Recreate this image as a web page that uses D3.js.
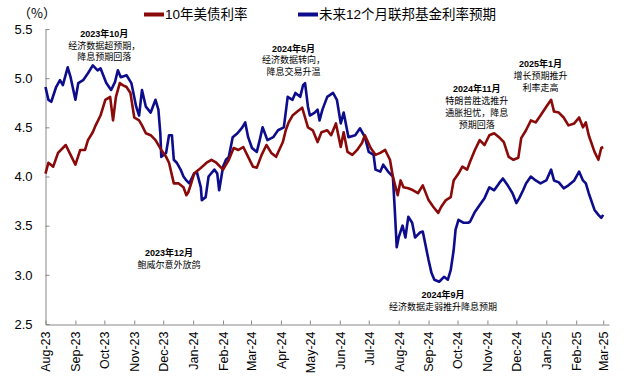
<!DOCTYPE html>
<html><head><meta charset="utf-8">
<script src="https://cdn.jsdelivr.net/npm/d3@7"></script>
<style>body{margin:0;background:#fff}svg{display:block}text{font-family:"Liberation Sans",Arial,"Noto Sans CJK SC",sans-serif}</style>
</head><body>
<svg id="c" width="628" height="377"></svg>
<script>
const seriesNames = ["10年美债利率", "未来12个月联邦基金利率预期"];
const yTicks = [2.5, 3.0, 3.5, 4.0, 4.5, 5.0, 5.5];
const monthTicks = ["2023-08-01","2023-09-01","2023-10-01","2023-11-01","2023-12-01","2024-01-01","2024-02-01","2024-03-01","2024-04-01","2024-05-01","2024-06-01","2024-07-01","2024-08-01","2024-09-01","2024-10-01","2024-11-01","2024-12-01","2025-01-01","2025-02-01","2025-03-01"];

const tenYDates = ["2023-08-01","2023-08-04","2023-08-09","2023-08-14","2023-08-22","2023-08-27","2023-09-01","2023-09-06","2023-09-11","2023-09-14","2023-09-19","2023-09-22","2023-09-27","2023-10-02","2023-10-07","2023-10-10","2023-10-13","2023-10-17","2023-10-20","2023-10-24","2023-10-28","2023-11-01","2023-11-06","2023-11-09","2023-11-13","2023-11-18","2023-11-23","2023-11-29","2023-12-04","2023-12-07","2023-12-12","2023-12-17","2023-12-22","2023-12-25","2023-12-27","2023-12-30","2024-01-02","2024-01-07","2024-01-15","2024-01-20","2024-01-25","2024-02-01","2024-02-07","2024-02-12","2024-02-17","2024-02-22","2024-02-27","2024-03-03","2024-03-07","2024-03-12","2024-03-17","2024-03-22","2024-03-27","2024-04-03","2024-04-06","2024-04-09","2024-04-13","2024-04-18","2024-04-23","2024-04-26","2024-04-29","2024-05-04","2024-05-09","2024-05-13","2024-05-19","2024-05-23","2024-05-28","2024-06-02","2024-06-05","2024-06-09","2024-06-14","2024-06-19","2024-06-24","2024-06-27","2024-07-03","2024-07-08","2024-07-13","2024-07-18","2024-07-23","2024-07-26","2024-07-31","2024-08-03","2024-08-06","2024-08-11","2024-08-16","2024-08-21","2024-08-26","2024-09-01","2024-09-06","2024-09-11","2024-09-14","2024-09-19","2024-09-24","2024-09-27","2024-10-02","2024-10-06","2024-10-11","2024-10-14","2024-10-19","2024-10-24","2024-10-29","2024-11-03","2024-11-08","2024-11-13","2024-11-18","2024-11-23","2024-11-28","2024-12-03","2024-12-06","2024-12-11","2024-12-16","2024-12-21","2024-12-26","2025-01-01","2025-01-06","2025-01-09","2025-01-14","2025-01-19","2025-01-24","2025-01-30","2025-02-04","2025-02-08","2025-02-11","2025-02-14","2025-02-20","2025-02-24","2025-02-27","2025-03-01"];
const tenYValues = [4.03,4.14,4.10,4.24,4.32,4.22,4.12,4.27,4.27,4.37,4.45,4.52,4.62,4.78,4.81,4.57,4.81,4.95,4.93,4.91,4.85,4.60,4.57,4.52,4.44,4.42,4.37,4.27,4.20,4.14,3.93,3.93,3.89,3.81,3.84,3.93,4.03,4.07,4.14,4.17,4.14,4.07,4.17,4.29,4.27,4.30,4.20,4.10,4.09,4.22,4.32,4.24,4.20,4.35,4.47,4.55,4.62,4.66,4.70,4.60,4.50,4.47,4.35,4.45,4.47,4.42,4.54,4.30,4.45,4.25,4.22,4.27,4.34,4.42,4.29,4.22,4.24,4.27,4.17,4.00,3.81,3.96,3.89,3.88,3.86,3.83,3.91,3.76,3.69,3.63,3.69,3.76,3.79,3.96,4.03,4.10,4.07,4.15,4.27,4.37,4.32,4.42,4.44,4.40,4.35,4.20,4.17,4.19,4.39,4.47,4.57,4.55,4.62,4.71,4.78,4.66,4.65,4.60,4.52,4.54,4.60,4.50,4.55,4.42,4.25,4.17,4.29,4.30];

const fedDates = ["2023-08-01","2023-08-04","2023-08-07","2023-08-12","2023-08-16","2023-08-19","2023-08-24","2023-08-27","2023-09-01","2023-09-04","2023-09-09","2023-09-14","2023-09-19","2023-09-24","2023-09-27","2023-10-03","2023-10-08","2023-10-12","2023-10-15","2023-10-18","2023-10-24","2023-10-29","2023-11-03","2023-11-06","2023-11-09","2023-11-13","2023-11-18","2023-11-23","2023-11-26","2023-11-28","2023-11-29","2023-12-04","2023-12-07","2023-12-10","2023-12-12","2023-12-15","2023-12-19","2023-12-22","2023-12-25","2023-12-28","2024-01-02","2024-01-05","2024-01-09","2024-01-10","2024-01-14","2024-01-17","2024-01-23","2024-01-26","2024-01-28","2024-02-01","2024-02-04","2024-02-07","2024-02-11","2024-02-16","2024-02-21","2024-02-24","2024-02-27","2024-03-02","2024-03-07","2024-03-10","2024-03-13","2024-03-18","2024-03-24","2024-03-29","2024-04-04","2024-04-08","2024-04-13","2024-04-16","2024-04-21","2024-04-24","2024-04-26","2024-04-29","2024-05-01","2024-05-06","2024-05-09","2024-05-11","2024-05-14","2024-05-19","2024-05-25","2024-05-29","2024-06-02","2024-06-05","2024-06-10","2024-06-17","2024-06-22","2024-06-27","2024-07-01","2024-07-06","2024-07-08","2024-07-13","2024-07-16","2024-07-21","2024-07-26","2024-07-28","2024-07-30","2024-08-01","2024-08-05","2024-08-08","2024-08-11","2024-08-15","2024-08-18","2024-08-23","2024-08-26","2024-09-01","2024-09-04","2024-09-07","2024-09-12","2024-09-17","2024-09-21","2024-09-24","2024-09-27","2024-09-29","2024-10-02","2024-10-07","2024-10-12","2024-10-14","2024-10-19","2024-10-24","2024-10-29","2024-11-03","2024-11-08","2024-11-13","2024-11-17","2024-11-22","2024-11-27","2024-12-01","2024-12-04","2024-12-08","2024-12-11","2024-12-16","2024-12-21","2024-12-26","2025-01-01","2025-01-06","2025-01-09","2025-01-14","2025-01-19","2025-01-24","2025-01-30","2025-02-04","2025-02-08","2025-02-11","2025-02-14","2025-02-20","2025-02-24","2025-02-27","2025-03-01"];
const fedValues = [4.91,4.78,4.76,4.91,4.98,4.93,5.11,5.01,4.78,4.95,4.98,5.05,5.13,5.08,5.10,4.95,4.88,4.96,5.08,5.01,5.03,4.95,4.71,4.62,4.88,4.71,4.65,4.78,4.68,4.44,4.20,4.24,4.42,4.42,4.17,4.14,4.07,4.00,3.96,3.93,4.03,4.04,3.89,3.76,3.79,4.00,4.07,4.03,3.86,4.10,4.17,4.20,4.40,4.44,4.50,4.55,4.40,4.29,4.25,4.37,4.50,4.37,4.40,4.47,4.50,4.81,4.78,4.85,4.81,4.93,4.95,4.71,4.62,4.65,4.68,4.57,4.68,4.81,4.85,4.78,4.54,4.65,4.40,4.42,4.49,4.40,4.25,4.22,4.07,4.05,4.12,4.05,4.00,3.66,3.28,3.38,3.50,3.38,3.59,3.53,3.38,3.43,3.44,3.15,3.02,2.95,2.93,2.98,2.95,3.05,3.25,3.46,3.56,3.53,3.53,3.54,3.64,3.71,3.78,3.89,3.86,3.93,3.98,3.91,3.83,3.73,3.78,3.86,3.93,4.00,3.96,3.93,3.96,4.07,3.96,3.94,3.88,3.91,3.96,4.05,3.96,3.93,3.83,3.66,3.61,3.58,3.61];

const notes = [
  {date:"2023-10-01", value:5.42, lines:["2023年10月","经济数据超预期，","降息预期回落"]},
  {date:"2024-04-14", value:5.27, lines:["2024年5月","经济数据转向，","降息交易升温"]},
  {date:"2024-10-21", value:4.855, lines:["2024年11月","特朗普胜选推升","通胀担忧，降息","预期回落"]},
  {date:"2024-12-26", value:5.11, lines:["2025年1月","增长预期推升","利率走高"]},
  {date:"2023-12-07", value:3.19, lines:["2023年12月","鲍威尔意外放鸽"]},
  {date:"2024-09-16", value:2.76, lines:["2024年9月","经济数据走弱推升降息预期"]}
];

const colors = ["#8a0a0a", "#0c0c8c"];
const parse = d3.timeParse("%Y-%m-%d");
const fmt = d3.timeFormat("%b-%y");
const svg = d3.select("#c");
const x = d3.scaleTime().domain([parse("2023-08-01"), parse("2025-03-07")]).range([45.5, 609]);
const y = d3.scaleLinear().domain([2.5, 5.5]).range([324, 29]);

// axes
const yAxis = svg.append("g").attr("transform","translate(45.5,0)")
  .call(d3.axisLeft(y).tickValues(yTicks).tickFormat(d3.format(".1f")).tickSizeInner(-4).tickSizeOuter(0).tickPadding(13));
yAxis.select(".domain").attr("stroke","#888");
yAxis.selectAll(".tick line").attr("stroke","#888");
yAxis.selectAll("text").attr("font-size",13).attr("fill","#000").style("font-family","'Liberation Sans',Arial,sans-serif");

const xAxis = svg.append("g").attr("transform","translate(0,324.5)")
  .call(d3.axisBottom(x).tickValues(monthTicks.map(parse)).tickFormat(fmt).tickSizeInner(-4).tickSizeOuter(0));
xAxis.select(".domain").attr("stroke","#888");
xAxis.selectAll(".tick line").attr("stroke","#888");
xAxis.selectAll("text").attr("font-size",12.5).attr("fill","#000")
  .attr("text-anchor","end").attr("transform","rotate(-90)").attr("x",-7).attr("y",0).attr("dy","0.35em")
  .style("font-family","'Liberation Sans',Arial,sans-serif");

svg.append("text").attr("x",18).attr("y",18).attr("font-size",13).text("（%）").style("font-family","'Noto Sans CJK SC',sans-serif");

// lines
const series = [
  {dates: tenYDates, values: tenYValues},
  {dates: fedDates, values: fedValues}
];
const line = d3.line().x(d => x(d[0])).y(d => y(d[1])).curve(d3.curveLinear);
[1,0].forEach(i => {
  const pts = series[i].dates.map((d,j) => [parse(d), series[i].values[j]]);
  svg.append("path").attr("d", line(pts)).attr("fill","none").attr("stroke",colors[i])
    .attr("stroke-width",2.6).attr("stroke-linejoin","round");
});

// legend
const legX = [144, 298];
seriesNames.forEach((n,i) => {
  svg.append("line").attr("x1",legX[i]).attr("x2",legX[i]+20).attr("y1",14.5).attr("y2",14.5)
    .attr("stroke",colors[i]).attr("stroke-width",4);
  svg.append("text").attr("x",legX[i]+21).attr("y",19).attr("font-size",13.5).attr("fill","#000")
    .style("font-family","'Liberation Sans','Noto Sans CJK SC',sans-serif").text(n);
});

// annotations
notes.forEach(a => {
  const t = svg.append("text").attr("text-anchor","middle").attr("font-size",9).attr("font-weight","bold")
    .attr("fill","#000").style("font-family","'Liberation Sans','Noto Sans CJK SC',sans-serif");
  a.lines.forEach((l,k) => {
    t.append("tspan").attr("x", x(parse(a.date))).attr("y", y(a.value) + k*11.8).text(l)
      .attr("font-weight", k===0 ? "bold" : "normal");
  });
});
</script>
</body></html>
